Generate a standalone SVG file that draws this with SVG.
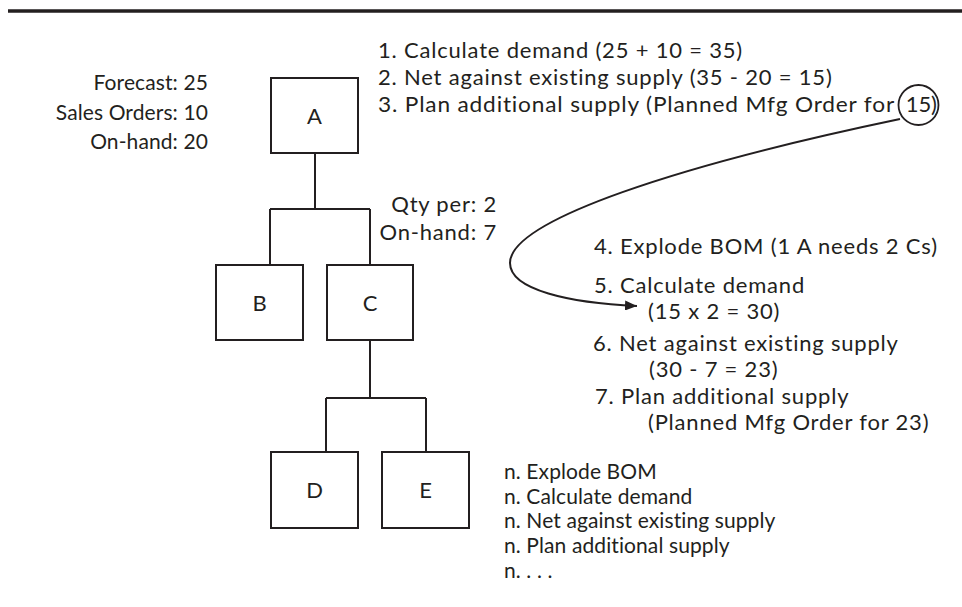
<svg xmlns="http://www.w3.org/2000/svg" width="962" height="607" viewBox="0 0 962 607">
<defs>
<style>
text{font-family:Lato,"Open Sans","Liberation Sans",sans-serif;font-size:22px;letter-spacing:0.8px;fill:#231f20}
.sm{font-size:21px;letter-spacing:0.1px}
.box{fill:#fff;stroke:#231f20;stroke-width:2}
.ln{fill:none;stroke:#231f20;stroke-width:2}
.lbl{text-anchor:middle;letter-spacing:0}
.r{text-anchor:end}
</style>
<marker id="ah" markerWidth="12" markerHeight="10" refX="12" refY="5" orient="auto" markerUnits="userSpaceOnUse">
<path d="M0,0 L12,5 L0,10 Z" fill="#231f20"/>
</marker>
</defs>
<rect width="962" height="607" fill="#fff"/>
<line x1="8" y1="11" x2="962" y2="11" stroke="#231f20" stroke-width="3.5"/>

<g id="connectors">
<path class="ln" d="M315,153 V209 M270,209 H370 M270,209 V265 M370,209 V265"/>
<path class="ln" d="M370,340 V398 M326,398 H426 M326,398 V452 M426,398 V452"/>
<path class="ln" d="M900,119 C680,165 510,220 510,263 C510,290 570,303 637,306" marker-end="url(#ah)" stroke-width="1.8"/>
</g>

<g id="A"><rect class="box" x="271" y="78" width="87" height="75"/><text class="lbl" x="314.5" y="124">A</text></g>
<g id="B"><rect class="box" x="216" y="265" width="87" height="75"/><text class="lbl" x="259.5" y="311">B</text></g>
<g id="C"><rect class="box" x="327" y="265" width="86" height="75"/><text class="lbl" x="370" y="311">C</text></g>
<g id="D"><rect class="box" x="271" y="452" width="87" height="76"/><text class="lbl" x="314.5" y="498">D</text></g>
<g id="E"><rect class="box" x="382" y="452" width="87" height="76"/><text class="lbl" x="425.5" y="498">E</text></g>

<g id="a-info">
<text class="r sm" x="208" y="90">Forecast: 25</text>
<text class="r sm" x="208" y="120">Sales Orders: 10</text>
<text class="r sm" x="208" y="149">On-hand: 20</text>
</g>
<g id="c-info">
<text class="r" x="497" y="212" letter-spacing="0.5">Qty per: 2</text>
<text class="r" x="497" y="240" letter-spacing="0.5">On-hand: 7</text>
</g>
<g id="steps-a">
<text x="378" y="58">1. Calculate demand (25 + 10 = 35)</text>
<text x="378" y="85">2. Net against existing supply (35 - 20 = 15)</text>
<text x="378" y="112" textLength="517" lengthAdjust="spacingAndGlyphs">3. Plan additional supply (Planned Mfg Order for</text>
<text x="918.5" y="112" class="lbl">15</text>
<text x="931" y="112" letter-spacing="0">)</text>
<circle cx="918.5" cy="105" r="20" fill="none" stroke="#231f20" stroke-width="1.8"/>
</g>
<g id="steps-c">
<text x="594" y="254">4. Explode BOM (1 A needs 2 Cs)</text>
<text x="594" y="293">5. Calculate demand</text>
<text x="648" y="319">(15 x 2 = 30)</text>
<text x="593" y="351">6. Net against existing supply</text>
<text x="649" y="377">(30 - 7 = 23)</text>
<text x="595" y="404">7. Plan additional supply</text>
<text x="648" y="430">(Planned Mfg Order for 23)</text>
</g>
<g id="steps-n">
<text class="sm" x="504" y="479">n. Explode BOM</text>
<text class="sm" x="504" y="504">n. Calculate demand</text>
<text class="sm" x="504" y="528">n. Net against existing supply</text>
<text class="sm" x="504" y="553">n. Plan additional supply</text>
<text class="sm" x="504" y="578">n. . . .</text>
</g>
</svg>
